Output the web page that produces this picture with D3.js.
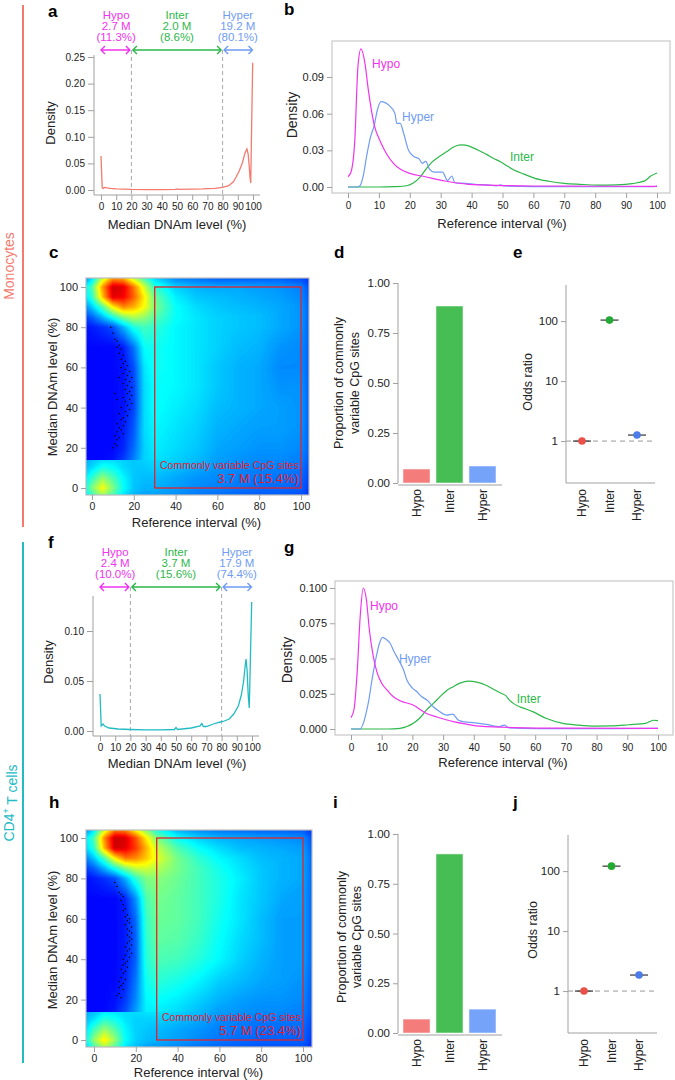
<!DOCTYPE html>
<html><head><meta charset="utf-8">
<script src="https://cdn.jsdelivr.net/npm/d3@7"></script>
<style>
body{margin:0;background:#fff;}
svg text{font-family:"Liberation Sans",Arial,Helvetica,sans-serif;}
</style></head><body>
<svg id="fig" width="675" height="1080" xmlns="http://www.w3.org/2000/svg"></svg>
<script>
// ---------------- DATA ----------------
const groups = ["Hypo","Inter","Hyper"];
const groupBounds = [[0,20],[20,80],[80,100]];
const monoCounts = ["2.7 M","2.0 M","19.2 M"];
const monoPct = ["(11.3%)","(8.6%)","(80.1%)"];
const cd4Counts = ["2.4 M","3.7 M","17.9 M"];
const cd4Pct = ["(10.0%)","(15.6%)","(74.4%)"];
const pctTicks = [0,10,20,30,40,50,60,70,80,90,100];
const heatTicks = [0,20,40,60,80,100];
const densTicksA = [0,0.05,0.10,0.15,0.20,0.25];
const densTicksF = [0,0.05,0.10];
const densTicksB = [0,0.03,0.06,0.09];
const densTicksG = [0,0.025,0.05,0.075,0.1];
const densLabelsG = ["0.000","0.025","0.005","0.075","0.100"];
const propTicks = [0,0.25,0.5,0.75,1];
const orTicks = [1,10,100];

// median DNAm density (monocytes / CD4)
const monoMedian = [[0,0.064],[0.8,0.004],[1.5,0.003],[2.5,0.005],[4,0.004],[6,0.003],[10,0.002],[15,0.0015],[20,0.001],[30,0.0008],[40,0.0008],[49,0.001],[50,0.002],[51,0.001],[60,0.0015],[67,0.002],[70,0.0025],[75,0.003],[80,0.005],[84,0.008],[87,0.015],[89,0.025],[91,0.036],[93,0.051],[94.7,0.069],[96,0.077],[96.8,0.068],[97.5,0.045],[98,0.025],[98.5,0.013],[99.8,0.239]];
const cd4Median = [[0,0.037],[0.8,0.005],[2,0.007],[3,0.005],[6,0.003],[12,0.002],[20,0.0015],[30,0.0012],[40,0.0012],[49,0.0015],[50,0.0035],[51,0.0015],[60,0.003],[65.8,0.005],[67,0.0075],[68,0.0045],[70,0.0045],[74.6,0.007],[78,0.0085],[81,0.0095],[85,0.012],[88,0.017],[91,0.025],[93,0.036],[94.5,0.05],[95.5,0.065],[96.1,0.072],[96.8,0.06],[97.5,0.036],[98.2,0.023],[99.8,0.129]];

// reference-interval densities
const monoHypoRI = [[0,0.0084],[1,0.0125],[2.2,0.038],[3.2,0.098],[4.2,0.113],[5.5,0.101],[6.6,0.079],[8.5,0.0507],[10.5,0.037],[12.5,0.027],[14.7,0.0194],[17,0.0145],[20,0.0112],[25,0.0084],[31.4,0.0049],[39,0.0022],[50,0.0012],[60,0.0008],[80,0.0006],[100,0.0005]];
const monoHyperRI = [[0,0],[3,0],[3.9,0.001],[5,0.01],[6,0.0248],[7.2,0.04],[8.5,0.0507],[9.5,0.063],[10.7,0.0698],[12,0.069],[13.6,0.066],[15.2,0.06],[15.8,0.052],[16.9,0.052],[18,0.044],[19.6,0.03],[21.4,0.0248],[23,0.023],[24.1,0.0194],[25.2,0.021],[26.3,0.0149],[27.9,0.0122],[30.6,0.0122],[32.2,0.0053],[33.6,0.009],[34.6,0.0035],[38,0.003],[42,0.002],[45,0.0018],[48,0.001],[49.5,0.0018],[50.5,0.0008],[60,0.0003],[80,0.0002],[99,0.0002],[100,0.001]];
const monoInterRI = [[0,0],[10,0],[15,0.0003],[19,0.001],[21,0.003],[23.4,0.0083],[25.5,0.0155],[27,0.02],[29,0.024],[32,0.029],[34,0.0325],[36.3,0.0345],[38,0.0342],[40.6,0.032],[43,0.029],[45,0.0265],[47,0.0235],[49.3,0.0207],[51,0.018],[53.7,0.0139],[57,0.0105],[60.5,0.0071],[65,0.0047],[70,0.003],[75,0.0022],[81,0.0016],[87,0.0018],[92,0.0028],[96,0.005],[98,0.009],[100,0.0115]];
const cd4HypoRI = [[0,0.008],[1,0.014],[2,0.04],[3,0.08],[4,0.1],[5,0.092],[6,0.07],[7.3,0.051],[8.5,0.04],[10,0.0325],[12,0.027],[13.7,0.023],[16,0.02],[20.2,0.017],[24.6,0.011],[28,0.0085],[33.3,0.0052],[38,0.0033],[42,0.002],[53,0.001],[70,0.0006],[100,0.0005]];
const cd4HyperRI = [[0,0],[3,0],[4,0.004],[5,0.012],[5.8,0.0205],[7,0.037],[8.3,0.052],[9.3,0.061],[10.3,0.065],[11.5,0.0635],[12.7,0.061],[14,0.055],[15.5,0.049],[17.1,0.042],[18.2,0.0347],[20,0.029],[21.5,0.0264],[23,0.023],[24.8,0.0205],[26.8,0.0158],[28.5,0.013],[31.2,0.0099],[33.1,0.0106],[34.9,0.0064],[37,0.005],[39.8,0.0045],[44,0.0033],[48.3,0.0017],[50,0.0028],[51.5,0.0008],[60,0.0003],[80,0.0002],[100,0.0005]];
const cd4InterRI = [[0,0],[12,0],[16,0.0005],[20.3,0.004],[22.5,0.008],[24.6,0.0135],[27,0.0185],[29,0.023],[31,0.027],[33.3,0.03],[35.5,0.0325],[38.2,0.034],[41,0.0333],[44,0.031],[46.5,0.028],[48.9,0.0253],[50.5,0.0235],[51.6,0.0205],[53,0.018],[54.9,0.0158],[57,0.0142],[59.2,0.0123],[63.5,0.0076],[69,0.004],[74,0.0028],[79.6,0.0021],[85,0.0022],[90.5,0.003],[96,0.004],[98.5,0.0062],[100,0.006]];

// smoothed-scatter density grid (jet colour level 0..1), rows from top (y=104) to bottom (y=-4)
const heatX = [-4,0,5,10,15,20,25,30,40,50,60,70,80,90,100,104];
const heatY = [104,100,95,90,85,80,70,60,50,40,30,20,14.1,13.9,10,5,0,-4];
const monoHeat = [
 [0.25,0.35,0.58,0.74,0.72,0.58,0.45,0.34,0.26,0.24,0.22,0.22,0.22,0.22,0.20,0.17],
 [0.35,0.45,0.72,0.92,0.90,0.76,0.58,0.42,0.33,0.30,0.29,0.29,0.28,0.27,0.25,0.20],
 [0.33,0.42,0.68,0.90,0.88,0.78,0.64,0.48,0.36,0.32,0.31,0.30,0.29,0.28,0.26,0.21],
 [0.25,0.32,0.45,0.63,0.74,0.70,0.62,0.50,0.38,0.34,0.32,0.31,0.30,0.29,0.27,0.22],
 [0.18,0.22,0.30,0.40,0.50,0.55,0.52,0.46,0.38,0.35,0.33,0.32,0.31,0.29,0.27,0.22],
 [0.14,0.15,0.17,0.20,0.30,0.40,0.44,0.42,0.37,0.35,0.33,0.32,0.31,0.29,0.27,0.22],
 [0.13,0.13,0.13,0.13,0.15,0.24,0.38,0.39,0.37,0.35,0.33,0.31,0.30,0.27,0.26,0.22],
 [0.13,0.13,0.13,0.13,0.14,0.20,0.35,0.39,0.37,0.35,0.32,0.30,0.29,0.26,0.26,0.22],
 [0.13,0.13,0.13,0.13,0.14,0.19,0.34,0.38,0.37,0.35,0.32,0.30,0.29,0.27,0.27,0.22],
 [0.13,0.13,0.13,0.13,0.14,0.19,0.34,0.38,0.36,0.34,0.31,0.30,0.29,0.28,0.27,0.22],
 [0.13,0.13,0.13,0.13,0.15,0.21,0.34,0.37,0.35,0.33,0.30,0.29,0.28,0.28,0.27,0.22],
 [0.13,0.13,0.13,0.13,0.16,0.23,0.33,0.36,0.34,0.32,0.29,0.28,0.27,0.27,0.26,0.22],
 [0.13,0.13,0.13,0.14,0.18,0.25,0.33,0.35,0.33,0.31,0.28,0.27,0.26,0.26,0.25,0.21],
 [0.29,0.31,0.34,0.34,0.33,0.32,0.33,0.34,0.33,0.31,0.28,0.27,0.26,0.26,0.25,0.21],
 [0.31,0.34,0.40,0.38,0.34,0.32,0.32,0.33,0.31,0.29,0.27,0.26,0.25,0.25,0.24,0.20],
 [0.34,0.42,0.52,0.45,0.37,0.32,0.31,0.31,0.29,0.27,0.26,0.25,0.24,0.24,0.23,0.19],
 [0.36,0.50,0.62,0.50,0.38,0.32,0.30,0.30,0.28,0.26,0.25,0.24,0.23,0.23,0.22,0.18],
 [0.31,0.42,0.52,0.44,0.35,0.30,0.28,0.28,0.26,0.24,0.23,0.22,0.21,0.21,0.20,0.17]
];
const cd4Heat = [
 [0.25,0.35,0.58,0.75,0.74,0.62,0.50,0.40,0.30,0.26,0.24,0.23,0.22,0.22,0.21,0.17],
 [0.35,0.45,0.74,0.93,0.91,0.80,0.64,0.50,0.38,0.33,0.30,0.29,0.28,0.27,0.26,0.21],
 [0.33,0.42,0.70,0.92,0.90,0.82,0.70,0.57,0.45,0.38,0.34,0.31,0.30,0.29,0.28,0.22],
 [0.25,0.32,0.45,0.64,0.76,0.74,0.68,0.60,0.49,0.42,0.37,0.34,0.31,0.30,0.29,0.23],
 [0.18,0.22,0.30,0.40,0.50,0.57,0.58,0.55,0.49,0.44,0.39,0.35,0.32,0.30,0.29,0.23],
 [0.14,0.15,0.17,0.20,0.30,0.42,0.50,0.51,0.48,0.44,0.40,0.36,0.32,0.30,0.29,0.23],
 [0.13,0.13,0.13,0.13,0.16,0.27,0.45,0.49,0.47,0.44,0.40,0.35,0.32,0.29,0.28,0.23],
 [0.13,0.13,0.13,0.13,0.15,0.23,0.43,0.48,0.47,0.44,0.39,0.35,0.31,0.28,0.28,0.23],
 [0.13,0.13,0.13,0.13,0.15,0.22,0.42,0.47,0.46,0.43,0.38,0.34,0.31,0.28,0.28,0.23],
 [0.13,0.13,0.13,0.13,0.15,0.22,0.41,0.45,0.44,0.41,0.37,0.33,0.30,0.28,0.28,0.23],
 [0.13,0.13,0.13,0.13,0.16,0.24,0.39,0.42,0.40,0.37,0.33,0.31,0.29,0.28,0.27,0.22],
 [0.13,0.13,0.13,0.14,0.18,0.26,0.37,0.38,0.36,0.33,0.30,0.28,0.27,0.27,0.26,0.21],
 [0.13,0.13,0.13,0.15,0.20,0.28,0.36,0.36,0.34,0.31,0.28,0.27,0.26,0.26,0.25,0.21],
 [0.29,0.31,0.35,0.35,0.34,0.34,0.35,0.35,0.33,0.31,0.28,0.27,0.26,0.26,0.25,0.21],
 [0.31,0.35,0.42,0.39,0.35,0.33,0.33,0.33,0.31,0.29,0.26,0.25,0.24,0.24,0.24,0.20],
 [0.34,0.44,0.53,0.46,0.37,0.33,0.32,0.31,0.29,0.27,0.25,0.24,0.23,0.23,0.23,0.19],
 [0.37,0.52,0.64,0.52,0.38,0.33,0.31,0.30,0.28,0.26,0.24,0.23,0.22,0.22,0.22,0.18],
 [0.31,0.43,0.53,0.45,0.35,0.31,0.28,0.27,0.25,0.23,0.22,0.21,0.20,0.20,0.20,0.17]
];
// sparse outlier points in low density region
const monoDots = [[9,80],[10,77],[11,74],[12,73],[13,71],[12,70],[14,69],[13,67],[15,66],[14,64],[16,63],[15,62],[17,61],[14,60],[16,59],[18,58],[15,57],[17,56],[19,55],[16,54],[18,53],[15,52],[17,51],[19,50],[16,49],[18,48],[17,47],[19,46],[15,45],[18,44],[16,43],[19,42],[17,41],[14,40],[18,39],[16,38],[13,37],[17,36],[15,35],[14,34],[16,33],[12,32],[15,31],[13,30],[14,29],[12,28],[15,27],[11,26],[13,25],[12,24],[11,22],[12,21],[10,20],[12,44],[13,55],[11,47]];
const cd4Dots = [[10,78],[11,76],[12,73],[13,72],[14,71],[13,69],[14,67],[15,65],[14,64],[16,62],[15,61],[17,60],[16,59],[17,58],[15,57],[18,56],[16,55],[17,54],[18,53],[16,52],[17,51],[18,50],[17,49],[16,48],[18,47],[15,46],[17,45],[16,44],[18,43],[15,42],[17,41],[14,40],[16,39],[15,38],[14,37],[16,36],[13,35],[15,34],[14,33],[13,31],[15,30],[12,29],[14,28],[13,27],[12,26],[14,25],[12,23],[11,22],[13,21]];
const monoCVLabel = "3.7 M (15.4%)";
const cd4CVLabel = "5.7 M (23.4%)";

const monoProp = [0.07, 0.885, 0.085];
const cd4Prop = [0.07, 0.90, 0.12];
const monoOR = [1, 104, 1.26];
const cd4OR = [1, 121, 1.85];

// ---------------- STYLE ----------------
const svg = d3.select("#fig");
const AX = "#a0a0a0", TX = "#222";
const lineCol = {Hypo:"#F033EE", Inter:"#2DB84A", Hyper:"#6F9CF4"};
const barCol = {Hypo:"#F47C7A", Inter:"#46BE54", Hyper:"#75A3FA"};
const ptCol = {Hypo:"#EC5049", Inter:"#22AA35", Hyper:"#4C7BEA"};
const monoCol = "#F47A6E", cd4Col = "#22BBC4";

function styleAxis(g, size) {
  g.select(".domain").remove();
  g.selectAll(".tick line").attr("stroke", AX);
  g.selectAll(".tick text").attr("fill", TX).style("font-size", size + "px");
  return g;
}
function label(x, y, s, size, o = {}) {
  const t = svg.append("text").attr("x", x).attr("y", y).text(s)
    .style("font-size", size + "px").attr("fill", o.fill || TX)
    .attr("text-anchor", o.anchor || "start");
  if (o.bold) t.style("font-weight", "bold");
  return t;
}
function vlabel(x, y, s, size, o = {}) {
  return svg.append("text").attr("transform", `translate(${x},${y}) rotate(-90)`)
    .attr("text-anchor", o.anchor || "middle").attr("dy", o.dy || "0.35em")
    .style("font-size", size + "px").attr("fill", o.fill || TX).text(s);
}
function arrow(x1, x2, y, c) {
  const h = 4;
  svg.append("path").attr("d", `M${x1},${y}H${x2}M${x1 + h},${y - h}L${x1},${y}L${x1 + h},${y + h}M${x2 - h},${y - h}L${x2},${y}L${x2 - h},${y + h}`)
    .attr("fill", "none").attr("stroke", c).attr("stroke-width", 1.4);
}

// ---------------- STRIPS ----------------
svg.append("line").attr("x1", 23).attr("x2", 23).attr("y1", 5).attr("y2", 527).attr("stroke", monoCol).attr("stroke-width", 2);
vlabel(9, 266, "Monocytes", 14, {fill: monoCol});
svg.append("line").attr("x1", 23).attr("x2", 23).attr("y1", 542).attr("y2", 1063).attr("stroke", cd4Col).attr("stroke-width", 2);
{
  const t = svg.append("text").attr("transform", "translate(9,803) rotate(-90)").attr("text-anchor", "middle").attr("dy", "0.35em")
    .style("font-size", "14px").attr("fill", cd4Col);
  t.append("tspan").text("CD4");
  t.append("tspan").text("+").style("font-size", "9px").attr("dy", "-0.6em");
  t.append("tspan").text(" T cells").attr("dy", "0.6em");
}

// ---------------- MEDIAN PANELS (a, f) ----------------
function medianPanel(c) {
  const x = d3.scaleLinear([0, 100], c.xr);
  const y = d3.scaleLinear([0, c.ymax], c.yr);
  svg.append("path").attr("d", `M${c.ax},${c.atop}V${c.abot}H${c.aright}`).attr("fill", "none").attr("stroke", AX);
  styleAxis(svg.append("g").attr("transform", `translate(${c.ax},0)`)
    .call(d3.axisLeft(y).tickValues(c.yt).tickFormat(d3.format(".2f")).tickSize(6).tickPadding(3)), 10);
  styleAxis(svg.append("g").attr("transform", `translate(0,${c.abot})`)
    .call(d3.axisBottom(x).tickValues(pctTicks).tickSize(5).tickPadding(3)), 10);
  [20, 80].forEach(v => svg.append("line").attr("x1", x(v)).attr("x2", x(v)).attr("y1", c.arrowY).attr("y2", c.abot)
    .attr("stroke", "#aaa").attr("stroke-dasharray", "4,3"));
  groups.forEach((g, i) => {
    const b = groupBounds[i];
    const cx = (x(b[0]) + x(b[1])) / 2;
    label(cx, c.hy[0], g, 11.5, {anchor: "middle", fill: lineCol[g]});
    label(cx, c.hy[1], c.counts[i], 11.5, {anchor: "middle", fill: lineCol[g]});
    label(cx, c.hy[2], c.pcts[i], 11.5, {anchor: "middle", fill: lineCol[g]});
    arrow(x(b[0]) + (i ? 1.5 : 0), x(b[1]) - (i < 2 ? 1.5 : 0.5), c.arrowY, lineCol[g]);
  });
  svg.append("path").datum(c.data).attr("fill", "none").attr("stroke", c.color).attr("stroke-width", 1.3)
    .attr("d", d3.line().x(d => x(d[0])).y(d => y(d[1])));
  label(c.xtitle[0], c.xtitle[1], "Median DNAm level (%)", 13, {anchor: "middle"});
  vlabel(c.ytitle[0], c.ytitle[1], "Density", 13);
  label(c.letter[0], c.letter[1], c.letter[2], 17, {bold: true, fill: "#000"});
}
medianPanel({xr: [101, 253], ymax: 0.25, yr: [190, 57], ax: 94, atop: 55, abot: 195, aright: 260, yt: densTicksA,
  arrowY: 50, hy: [19, 30, 41], counts: monoCounts, pcts: monoPct, data: monoMedian, color: monoCol,
  xtitle: [177, 229], ytitle: [50, 123], letter: [48, 17, "a"]});
medianPanel({xr: [100, 252], ymax: 0.135, yr: [731, 596], ax: 93, atop: 596, abot: 736, aright: 259, yt: densTicksF,
  arrowY: 587, hy: [556, 567, 578], counts: cd4Counts, pcts: cd4Pct, data: cd4Median, color: cd4Col,
  xtitle: [177, 768], ytitle: [48, 662], letter: [48, 548, "f"]});

// ---------------- REFERENCE INTERVAL DENSITY (b, g) ----------------
function riPanel(c) {
  const x = d3.scaleLinear([0, 100], c.xr);
  const y = d3.scaleLinear([0, c.ymax], c.yr);
  svg.append("rect").attr("x", c.box[0]).attr("y", c.box[1]).attr("width", c.box[2] - c.box[0]).attr("height", c.box[3] - c.box[1])
    .attr("fill", "none").attr("stroke", "#c8c8c8").attr("stroke-width", 1.2);
  styleAxis(svg.append("g").attr("transform", `translate(${c.box[0]},0)`)
    .call(d3.axisLeft(y).tickValues(c.yt).tickFormat((d, i) => c.ylab[i]).tickSize(5).tickPadding(3)), 11);
  styleAxis(svg.append("g").attr("transform", `translate(0,${c.box[3]})`)
    .call(d3.axisBottom(x).tickValues(pctTicks).tickSize(5).tickPadding(4)), 10);
  const ln = d3.line().x(d => x(d[0])).y(d => y(d[1])).curve(d3.curveMonotoneX);
  [["Inter", c.inter], ["Hyper", c.hyper], ["Hypo", c.hypo]].forEach(([g, d]) =>
    svg.append("path").datum(d).attr("fill", "none").attr("stroke", lineCol[g]).attr("stroke-width", 1.2).attr("d", ln));
  c.labels.forEach(([g, lx, ly]) => label(x(lx), y(ly), g, 12, {fill: lineCol[g]}));
  label(c.xtitle[0], c.xtitle[1], "Reference interval (%)", 13, {anchor: "middle"});
  vlabel(c.ytitle[0], c.ytitle[1], "Density", 14);
  label(c.letter[0], c.letter[1], c.letter[2], 17, {bold: true, fill: "#000"});
}
riPanel({xr: [348, 657], ymax: 0.09, yr: [187, 77], box: [332, 41, 670, 193], yt: densTicksB, ylab: densTicksB.map(d3.format(".2f")),
  hypo: monoHypoRI, hyper: monoHyperRI, inter: monoInterRI,
  labels: [["Hypo", 7.8, 0.097], ["Hyper", 17.5, 0.054], ["Inter", 52.4, 0.0213]],
  xtitle: [502, 228], ytitle: [292, 115], letter: [284, 15, "b"]});
riPanel({xr: [351, 658], ymax: 0.1, yr: [729, 588], box: [335, 581, 673, 735], yt: densTicksG, ylab: densLabelsG,
  hypo: cd4HypoRI, hyper: cd4HyperRI, inter: cd4InterRI,
  labels: [["Hypo", 6.2, 0.0844], ["Hyper", 15.6, 0.047], ["Inter", 54, 0.0184]],
  xtitle: [503, 767], ytitle: [287, 660], letter: [284, 553, "g"]});

// ---------------- HEATMAP PANELS (c, h) ----------------
const jet = d3.scaleLinear().domain([0, 0.125, 0.375, 0.625, 0.875, 1])
  .range(["#00007F", "#0000FF", "#00FFFF", "#FFFF00", "#FF0000", "#7F0000"]).clamp(true);
const lut = d3.range(256).map(i => d3.rgb(jet(i / 255)));
function heatPanel(c) {
  const x = d3.scaleLinear([0, 100], c.xr);
  const y = d3.scaleLinear([0, 100], c.yr);
  const [L, T, R, B] = c.area;
  const w = R - L, h = B - T;
  const fx = d3.scaleLinear(heatX, d3.range(heatX.length)).clamp(true);
  const fy = d3.scaleLinear(heatY, d3.range(heatY.length)).clamp(true);
  const cv = document.createElement("canvas"); cv.width = w; cv.height = h;
  const ctx = cv.getContext("2d");
  const img = ctx.createImageData(w, h);
  for (let j = 0; j < h; j++) {
    const gy = fy(y.invert(T + j + 0.5));
    const j0 = Math.min(Math.floor(gy), heatY.length - 2), ty = gy - j0;
    for (let i = 0; i < w; i++) {
      const gx = fx(x.invert(L + i + 0.5));
      const i0 = Math.min(Math.floor(gx), heatX.length - 2), tx = gx - i0;
      const g = c.grid;
      const v = (g[j0][i0] * (1 - tx) + g[j0][i0 + 1] * tx) * (1 - ty) + (g[j0 + 1][i0] * (1 - tx) + g[j0 + 1][i0 + 1] * tx) * ty;
      const col = lut[Math.max(0, Math.min(255, Math.round(v * 255)))];
      const k = (j * w + i) * 4;
      img.data[k] = col.r; img.data[k + 1] = col.g; img.data[k + 2] = col.b; img.data[k + 3] = 255;
    }
  }
  ctx.putImageData(img, 0, 0);
  svg.append("image").attr("x", L).attr("y", T).attr("width", w).attr("height", h).attr("href", cv.toDataURL());
  svg.append("g").selectAll("circle").data(c.dots).join("circle")
    .attr("cx", d => x(d[0])).attr("cy", d => y(d[1])).attr("r", 0.75).attr("fill", "#000");
  svg.append("rect").attr("x", L).attr("y", T).attr("width", w).attr("height", h).attr("fill", "none").attr("stroke", "#bbb").attr("stroke-width", 1.2);
  svg.append("rect").attr("x", x(30)).attr("y", y(100)).attr("width", x(100) - x(30)).attr("height", y(0) - y(100))
    .attr("fill", "none").attr("stroke", "#E3222B").attr("stroke-width", 1.3);
  label(x(99), c.cvY[0], "Commonly variable CpG sites", 10.5, {anchor: "end", fill: "#E3222B"});
  label(x(99), c.cvY[1], c.cvLabel, 13, {anchor: "end", fill: "#E3222B"});
  styleAxis(svg.append("g").attr("transform", `translate(${L},0)`)
    .call(d3.axisLeft(y).tickValues(heatTicks).tickSize(5).tickPadding(3)), 11);
  styleAxis(svg.append("g").attr("transform", `translate(0,${B})`)
    .call(d3.axisBottom(x).tickValues(heatTicks).tickSize(5).tickPadding(3)), 10.5);
  label((x(0) + x(100)) / 2, c.xtitle, "Reference interval (%)", 13, {anchor: "middle"});
  vlabel(52, c.ytitleY, "Median DNAm level (%)", 13);
  label(c.letter[0], c.letter[1], c.letter[2], 17, {bold: true, fill: "#000"});
}
heatPanel({xr: [92, 301], yr: [488, 287], area: [86, 278, 309, 495], grid: monoHeat, dots: monoDots,
  cvY: [469, 483], cvLabel: monoCVLabel, xtitle: 527, ytitleY: 387, letter: [49, 258, "c"]});
heatPanel({xr: [94, 303], yr: [1040, 838], area: [86, 830, 312, 1047], grid: cd4Heat, dots: cd4Dots,
  cvY: [1021, 1035], cvLabel: cd4CVLabel, xtitle: 1077, ytitleY: 940, letter: [49, 808, "h"]});

// ---------------- PROPORTION BARS (d, i) ----------------
function barPanel(c) {
  const x = d3.scaleBand(groups, [403, 496]).paddingInner(0.18).paddingOuter(0);
  const y = d3.scaleLinear([0, 1], c.yr);
  svg.append("line").attr("x1", 398).attr("x2", 398).attr("y1", c.yr[1]).attr("y2", c.yr[0]).attr("stroke", AX);
  svg.append("line").attr("x1", 398).attr("x2", 502).attr("y1", c.yr[0] + 2).attr("y2", c.yr[0] + 2).attr("stroke", AX);
  styleAxis(svg.append("g").attr("transform", "translate(398,0)")
    .call(d3.axisLeft(y).tickValues(propTicks).tickFormat(d3.format(".2f")).tickSize(5).tickPadding(3)), 11.5);
  svg.append("g").selectAll("rect").data(c.vals).join("rect")
    .attr("x", (d, i) => x(groups[i])).attr("width", x.bandwidth())
    .attr("y", d => y(d)).attr("height", d => y(0) - y(d))
    .attr("fill", (d, i) => barCol[groups[i]]).attr("stroke", "#fff").attr("stroke-opacity", 0.5);
  groups.forEach(g => vlabel(x(g) + x.bandwidth() / 2, c.yr[0] + 6, g, 12, {anchor: "end"}));
  vlabel(c.tx[0], c.tyc, "Proportion of commonly", 12.5);
  vlabel(c.tx[1], c.tyc, "variable CpG sites", 12.5);
  label(c.letter[0], c.letter[1], c.letter[2], 17, {bold: true, fill: "#000"});
}
barPanel({yr: [483, 283], vals: monoProp, tx: [339, 355], tyc: 383, letter: [334, 258, "d"]});
barPanel({yr: [1033, 834], vals: cd4Prop, tx: [342, 357], tyc: 937, letter: [333, 808, "i"]});

// ---------------- ODDS RATIO (e, j) ----------------
function orPanel(c) {
  const y = d3.scaleLog([0.2, 400], c.yr);
  const x = d3.scalePoint(groups, [c.ax + 16, c.ax + 71]);
  svg.append("path").attr("d", `M${c.ax},${c.yr[1]}V${c.yr[0]}H${c.ax + 89}`).attr("fill", "none").attr("stroke", AX);
  styleAxis(svg.append("g").attr("transform", `translate(${c.ax},0)`)
    .call(d3.axisLeft(y).tickValues(orTicks).tickFormat(d3.format("d")).tickSize(5).tickPadding(3)), 11.5);
  svg.append("line").attr("x1", c.ax).attr("x2", c.ax + 89).attr("y1", y(1)).attr("y2", y(1))
    .attr("stroke", "#999").attr("stroke-dasharray", "5,4");
  c.vals.forEach((v, i) => {
    const g = groups[i];
    svg.append("line").attr("x1", x(g) - 9).attr("x2", x(g) + 9).attr("y1", y(v)).attr("y2", y(v)).attr("stroke", "#333").attr("stroke-width", 1.2);
    svg.append("circle").attr("cx", x(g)).attr("cy", y(v)).attr("r", 3.8).attr("fill", ptCol[g]);
    vlabel(x(g), c.yr[0] + 6, g, 12, {anchor: "end"});
  });
  vlabel(c.tx, c.tyc, "Odds ratio", 12.5);
  label(c.letter[0], c.letter[1], c.letter[2], 17, {bold: true, fill: "#000"});
}
orPanel({yr: [483, 285], ax: 566, vals: monoOR, tx: 528, tyc: 382, letter: [513, 258, "e"]});
orPanel({yr: [1033, 835], ax: 568, vals: cd4OR, tx: 533, tyc: 930, letter: [513, 808, "j"]});
</script>
</body></html>
